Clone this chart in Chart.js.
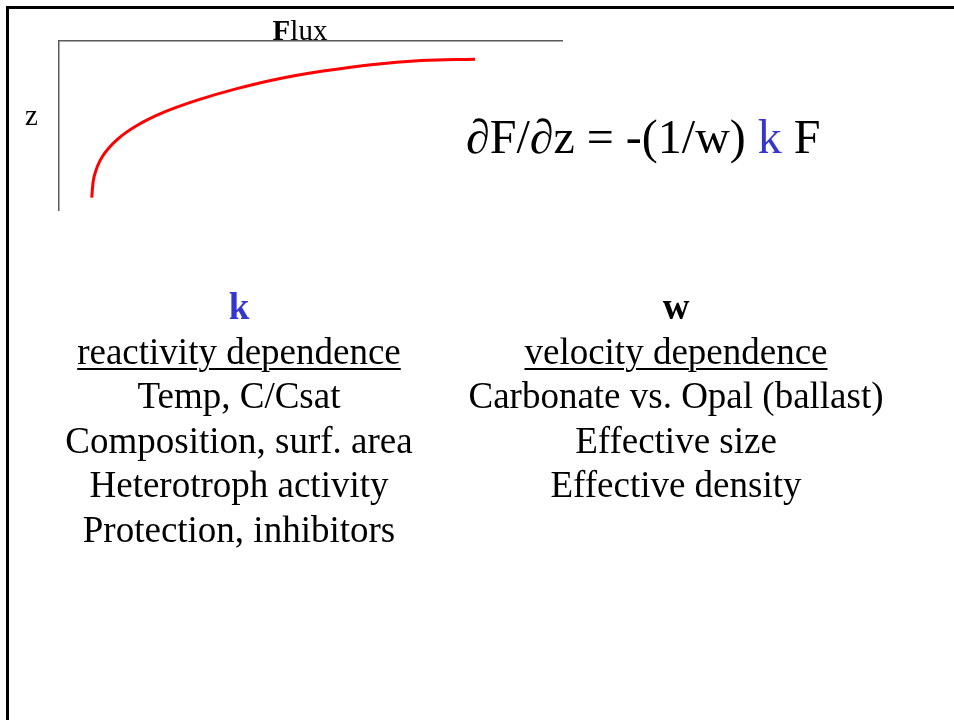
<!DOCTYPE html>
<html>
<head>
<meta charset="utf-8">
<title>Flux vs depth</title>
<script src="https://cdn.jsdelivr.net/npm/chart.js@4.4.1/dist/chart.umd.min.js"></script>
<style>
  html, body { margin: 0; padding: 0; background: #fff; }
  body { width: 954px; height: 720px; position: relative; overflow: hidden;
         font-family: "Liberation Serif", "Times New Roman", serif; color: #000; }
  #frame { position: absolute; left: 6px; top: 6px; width: 960px; height: 730px;
           border-left: 3px solid #000; border-top: 3px solid #000; }
  #chartBox { position: absolute; left: 0; top: 0; width: 954px; height: 720px; }
  .txt { position: absolute; white-space: nowrap; }
  #fluxLabel { left: 200px; width: 200px; text-align: center; top: 12px; font-size: 29px; line-height: 36px; }
  #zLabel { left: 25px; top: 97px; font-size: 29px; line-height: 36px; }
  #equation { left: 466px; top: 107px; font-size: 48px; line-height: 60px; }
  .col { position: absolute; top: 285px; width: 440px; text-align: center; font-size: 37px; line-height: 44.5px; }
  #colK { left: 19px; }
  #colW { left: 456px; }
  .blue { color: #3535d0; }
  .u { text-decoration: underline; text-decoration-thickness: 2px; text-underline-offset: 4px; }
</style>
</head>
<body>
<div id="frame"></div>
<div id="chartBox"><canvas id="fluxChart" width="954" height="720"></canvas></div>

<div class="txt" id="fluxLabel"><b>F</b>lux</div>
<div class="txt" id="zLabel">z</div>
<div class="txt" id="equation">&part;F/&part;z = -(1/w) <span class="blue">k</span> F</div>

<div class="col" id="colK">
  <div class="blue"><b>k</b></div>
  <div><span class="u">reactivity dependence</span></div>
  <div>Temp, C/Csat</div>
  <div>Composition, surf. area</div>
  <div>Heterotroph activity</div>
  <div>Protection, inhibitors</div>
</div>
<div class="col" id="colW">
  <div><b>w</b></div>
  <div><span class="u">velocity dependence</span></div>
  <div>Carbonate vs. Opal (ballast)</div>
  <div>Effective size</div>
  <div>Effective density</div>
</div>

<script>
// Flux profile (arbitrary units, 0-100 on each axis)
const fluxValues = [6.5, 7.0, 8.6, 11.5, 15.5, 21.0, 27.5, 35.0, 43.5, 52.5, 62.0, 72.0, 82.7];
const depthValues = [92.7, 80.0, 68.5, 58.5, 50.0, 42.0, 35.0, 28.5, 22.5, 17.8, 14.0, 11.6, 10.8];

const points = fluxValues.map((f, i) => ({ x: f, y: depthValues[i] }));

const axisBorder = { display: true, color: '#5a5a5a', width: 1.5 };

new Chart(document.getElementById('fluxChart').getContext('2d'), {
  type: 'scatter',
  data: {
    datasets: [{
      label: 'Flux',
      data: points,
      showLine: true,
      borderColor: '#ff0000',
      borderWidth: 3,
      pointRadius: 0,
      tension: 0.4,
      fill: false
    }]
  },
  options: {
    responsive: false,
    animation: false,
    devicePixelRatio: 1,
    layout: { padding: { left: 59, top: 41, right: 392, bottom: 510 } },
    plugins: { legend: { display: false }, tooltip: { enabled: false } },
    scales: {
      x: {
        type: 'linear',
        position: 'top',
        min: 0,
        max: 100,
        grid: { display: false, drawTicks: false, tickLength: 0 },
        ticks: { display: false },
        border: axisBorder
      },
      y: {
        type: 'linear',
        reverse: true,
        min: 0,
        max: 100,
        grid: { display: false, drawTicks: false, tickLength: 0 },
        ticks: { display: false },
        border: axisBorder
      }
    }
  }
});
</script>
</body>
</html>
